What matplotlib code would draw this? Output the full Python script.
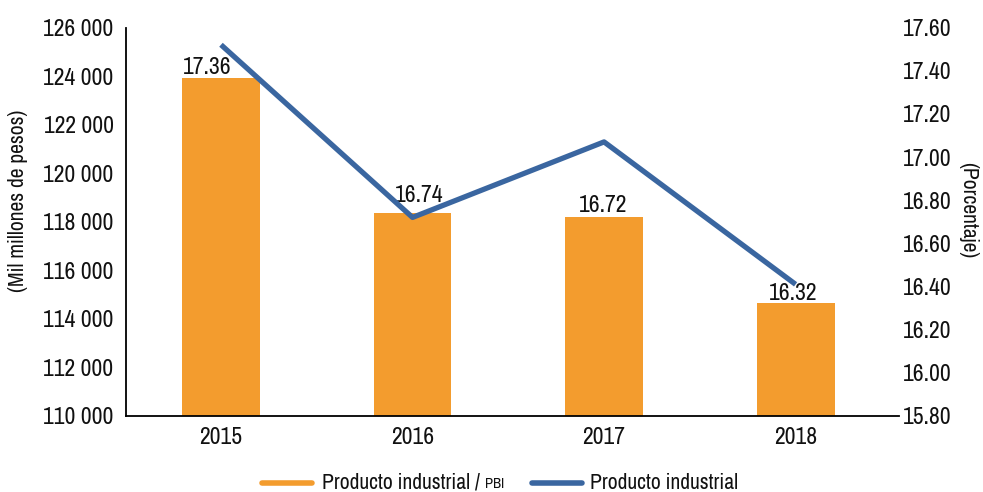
import matplotlib
matplotlib.use("Agg")
import matplotlib.pyplot as plt
from matplotlib import font_manager as fm
from matplotlib.lines import Line2D

names = sorted(set(f.name for f in fm.fontManager.ttflist))
narrow = [n for n in names if "Narrow" in n or "Condensed" in n]
FONT = narrow[0] if narrow else "Liberation Sans"
plt.rcParams['font.family'] = [FONT, 'DejaVu Sans']

years = ["2015", "2016", "2017", "2018"]
producto_mm = [123900, 118340, 118190, 114650]
bar_labels = ["17.36", "16.74", "16.72", "16.32"]
porcentaje = [17.52, 16.72, 17.07, 16.41]
left_ticks = [110000, 112000, 114000, 116000, 118000, 120000, 122000, 124000, 126000]
right_ticks = [15.8, 16.0, 16.2, 16.4, 16.6, 16.8, 17.0, 17.2, 17.4, 17.6]

ORANGE = "#F39C2E"
BLUE = "#3A66A0"
TXT = "#111111"

fig = plt.figure(figsize=(9.83, 4.92), dpi=100)
ax = fig.add_axes([126/983, 1-416/492, (899-126)/983, (416-27.5)/492])
x = list(range(len(years)))
ax.bar(x, [v - 110000 for v in producto_mm], bottom=110000, width=0.407, color=ORANGE, zorder=2)
ax.set_xlim(-0.496, 3.54)
ax.set_ylim(110000, 126000)
ax.set_yticks(left_ticks)
ax.set_yticklabels([f"{t//1000} 000" for t in left_ticks])
ax.set_xticks(x)
ax.set_xticklabels(years)
label_shift = [(-10, 3.5), (4.7, 8.5), (-1, 3.5), (-1.4, 2.5)]  # label offsets in points
for xi, v, lab, (dx, dy) in zip(x, producto_mm, bar_labels, label_shift):
    ax.annotate(lab, (xi, v), xytext=(dx, dy), textcoords="offset points",
                ha="center", va="baseline", fontsize=17, color=TXT)
for s in ["top", "right"]:
    ax.spines[s].set_visible(False)
ax.spines["left"].set_linewidth(1.3)
ax.spines["bottom"].set_linewidth(1.3)
ax.tick_params(axis="both", length=0, labelsize=17, colors=TXT)
ax.tick_params(axis="y", pad=9)
ax.tick_params(axis="x", pad=8)

ax2 = ax.twinx()
ax2.plot(x, porcentaje, color=BLUE, lw=3.8, zorder=3, solid_capstyle="butt")
ax2.set_ylim(15.8, 17.6)
ax2.set_yticks(right_ticks)
ax2.set_yticklabels([f"{t:.2f}" for t in right_ticks])
for s in ["top", "right", "left", "bottom"]:
    ax2.spines[s].set_visible(False)
ax2.tick_params(axis="y", length=0, labelsize=17, colors=TXT, pad=3)

fig.text(18/983, 1-201/492, "(Mil millones de pesos)", rotation=90, ha="center", va="center", fontsize=15.5, color=TXT)
fig.text(968/983, 1-210/492, "(Porcentaje)", rotation=-90, ha="center", va="center", fontsize=15.5, color=TXT)

# legend
ly = 1 - 483/492
fig.add_artist(Line2D([262/983, 312/983], [ly, ly], color=ORANGE, lw=4, solid_capstyle="round"))
t1 = fig.text(322/983, ly, "Producto industrial / ", ha="left", va="center", fontsize=15.5, color=TXT)
fig.canvas.draw()
r = fig.canvas.get_renderer()
bb = t1.get_window_extent(r)
fig.text(bb.x1/983, ly - 1/492, "PBI", ha="left", va="center", fontsize=10.5, color=TXT)
fig.add_artist(Line2D([532/983, 582/983], [ly, ly], color=BLUE, lw=4, solid_capstyle="round"))
fig.text(590/983, ly, "Producto industrial", ha="left", va="center", fontsize=15.5, color=TXT)

fig.savefig("out.png", dpi=100)
